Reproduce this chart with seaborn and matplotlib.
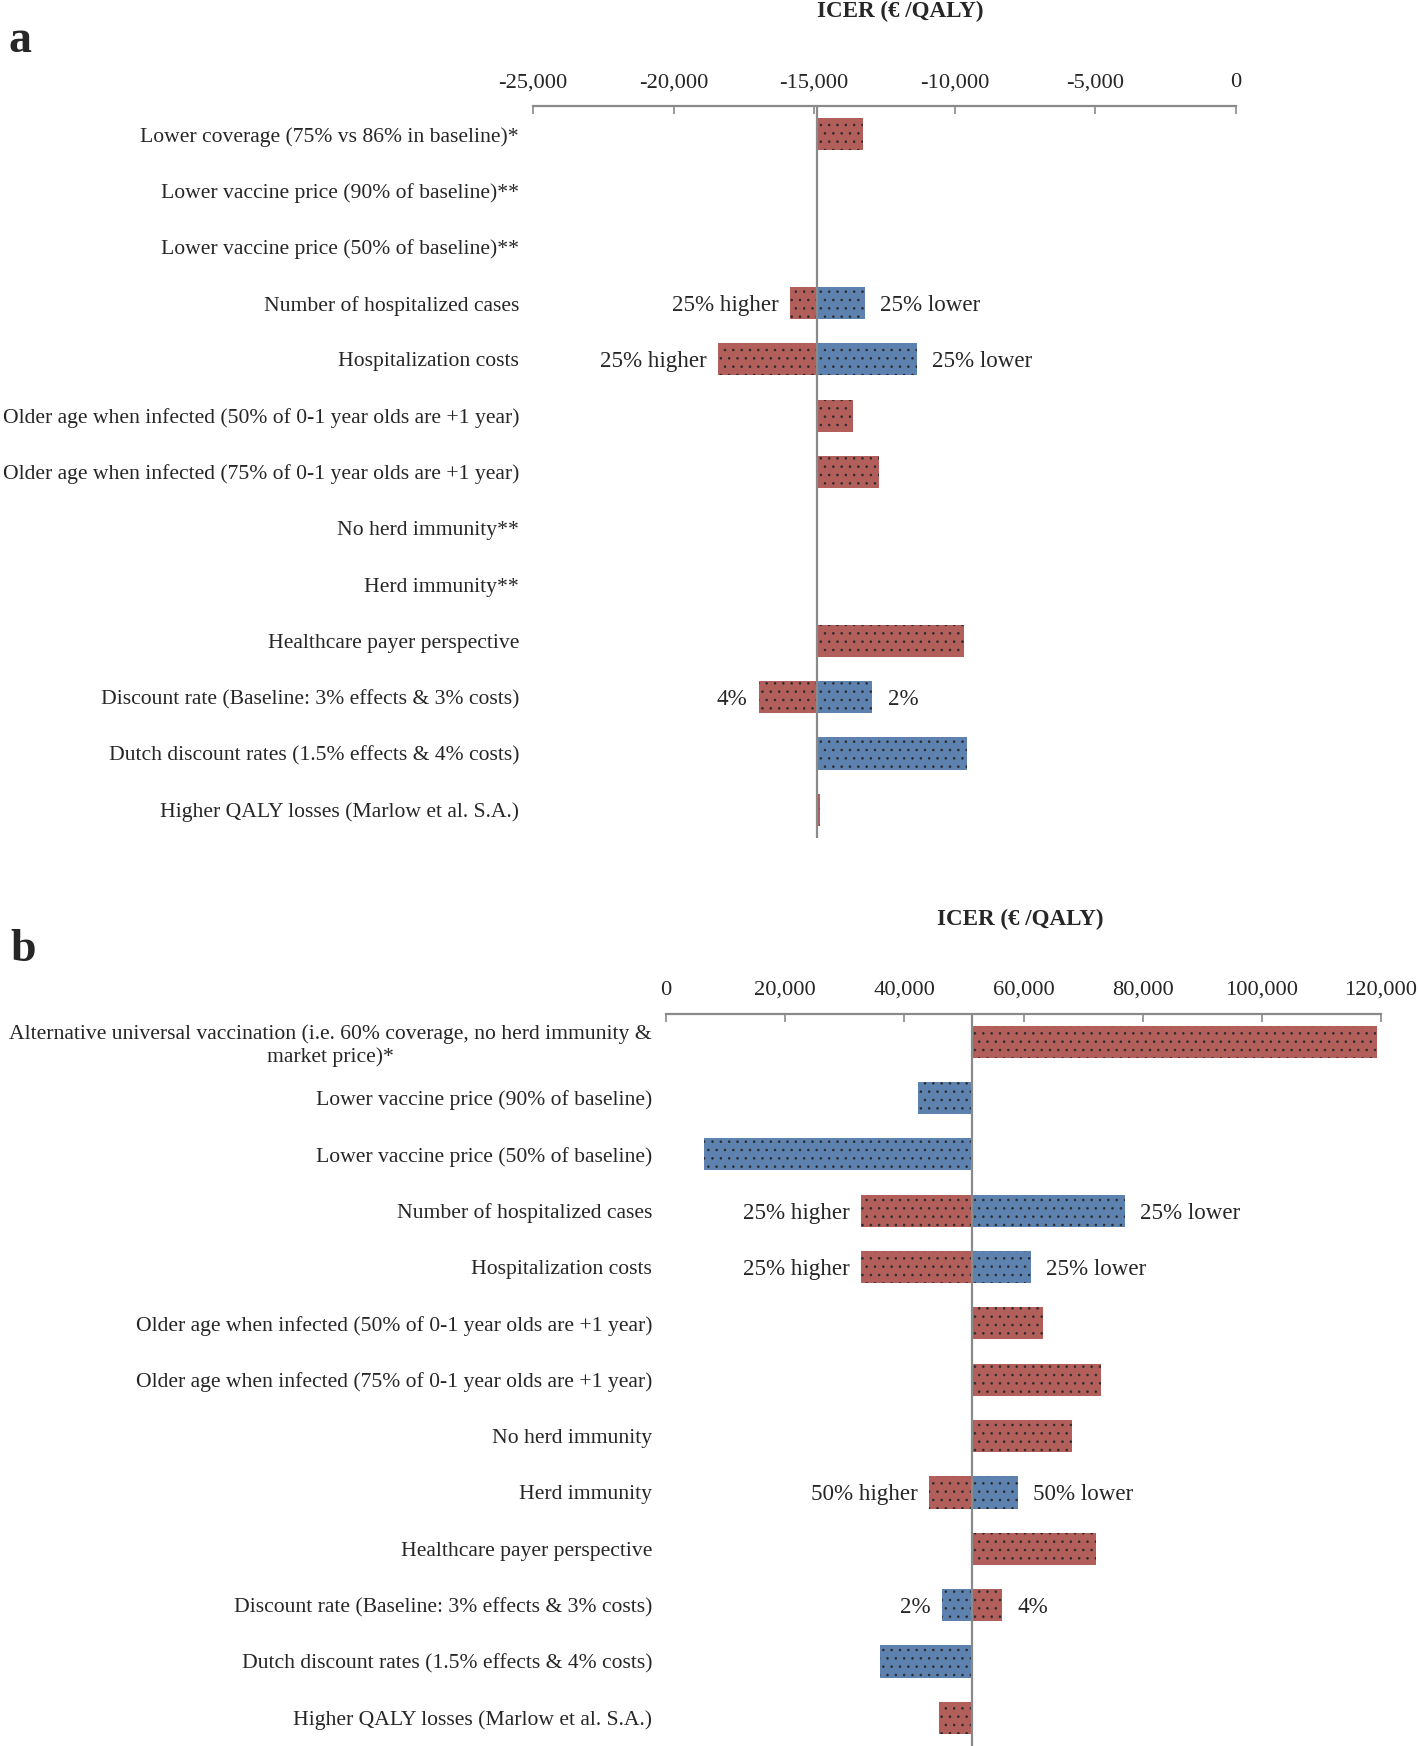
import numpy as np
import pandas as pd
import seaborn as sns
import matplotlib.pyplot as plt
from matplotlib.ticker import FuncFormatter, MultipleLocator

# %%
# Tornado data: ICER (EUR/QALY) per scenario, bars start at the base-case ICER
cats_a = [
    'Lower coverage (75% vs 86% in baseline)*',
    'Lower vaccine price (90% of baseline)**',
    'Lower vaccine price (50% of baseline)**',
    'Number of hospitalized cases',
    'Hospitalization costs',
    'Older age when infected (50% of 0-1 year olds are +1 year)',
    'Older age when infected (75% of 0-1 year olds are +1 year)',
    'No herd immunity**',
    'Herd immunity**',
    'Healthcare payer perspective',
    'Discount rate (Baseline: 3% effects & 3% costs)',
    'Dutch discount rates (1.5% effects & 4% costs)',
    'Higher QALY losses (Marlow et al. S.A.)',
]
base_a = -14890
red_a = [-13250, np.nan, np.nan, -15860, -18430, -13610, -12700,
         np.nan, np.nan, -9690, -16970, np.nan, -14790]
blue_a = [np.nan, np.nan, np.nan, -13190, -11360, np.nan, np.nan,
          np.nan, np.nan, np.nan, -12930, -9570, np.nan]
red_txt_a = ['', '', '', '25% higher', '25% higher', '', '', '', '', '', '4%', '', '']
blue_txt_a = ['', '', '', '25% lower', '25% lower', '', '', '', '', '', '2%', '', '']

cats_b = [
    'Alternative universal vaccination (i.e. 60% coverage, no herd immunity &\nmarket price)*',
    'Lower vaccine price (90% of baseline)',
    'Lower vaccine price (50% of baseline)',
    'Number of hospitalized cases',
    'Hospitalization costs',
    'Older age when infected (50% of 0-1 year olds are +1 year)',
    'Older age when infected (75% of 0-1 year olds are +1 year)',
    'No herd immunity',
    'Herd immunity',
    'Healthcare payer perspective',
    'Discount rate (Baseline: 3% effects & 3% costs)',
    'Dutch discount rates (1.5% effects & 4% costs)',
    'Higher QALY losses (Marlow et al. S.A.)',
]
base_b = 51400
red_b = [119300, np.nan, np.nan, 32700, 32700, 63300, 73000,
         68100, 44200, 72200, 56400, np.nan, 45800]
blue_b = [np.nan, 42300, 6300, 77000, 61200, np.nan, np.nan,
          np.nan, 59100, np.nan, 46300, 35900, np.nan]
red_txt_b = ['', '', '', '25% higher', '25% higher', '', '', '', '50% higher', '', '4%', '', '']
blue_txt_b = ['', '', '', '25% lower', '25% lower', '', '', '', '50% lower', '', '2%', '', '']

RED = '#C0504D'
BLUE = '#4F81BD'
GREY = '#8A8A8A'

sns.set_style('white')
plt.rcParams['font.family'] = ['Liberation Serif', 'DejaVu Serif']
plt.rcParams['hatch.linewidth'] = 0.6
FS = 15.6       # scenario names
FS_TICK = 16.2  # axis numbers
FS_NOTE = 16.6  # "25% higher" etc.


# %%
def tornado(ax, cats, base, red, blue, red_txt, blue_txt, xlim, step):
    n = len(cats)
    df = pd.DataFrame({
        'scenario': cats * 2,
        'value': list(red) + list(blue),
        'side': ['red'] * n + ['blue'] * n,
        'label': red_txt + blue_txt,
    })
    df['delta'] = df['value'] - base
    sns.barplot(data=df.dropna(subset=['delta']), x='delta', y='scenario',
                hue='side', order=cats, hue_order=['red', 'blue'],
                palette={'red': RED, 'blue': BLUE}, dodge=False,
                width=0.57, errorbar=None, left=base, legend=False,
                orient='h', ax=ax)
    for p in ax.patches:
        p.set_edgecolor('#2b2b2b')
        p.set_linewidth(0)
        p.set_hatch('..')

    # scenario labels next to bar ends
    pos = {c: i for i, c in enumerate(cats)}
    for _, r in df.iterrows():
        if not r['label'] or np.isnan(r['value']):
            continue
        left_side = r['value'] < base
        ax.annotate(r['label'], (r['value'], pos[r['scenario']]),
                    xytext=(-8 if left_side else 11, 0), textcoords='offset points',
                    ha='right' if left_side else 'left', va='center_baseline',
                    fontsize=FS_NOTE)

    ax.axvline(base, color=GREY, lw=1.6, zorder=3)
    ax.set_xlim(*xlim)
    ax.set_ylim(n - 0.5, -0.5)
    ax.xaxis.set_major_locator(MultipleLocator(step))
    ax.xaxis.set_major_formatter(FuncFormatter(lambda v, _: f'{v:,.0f}'))
    ax.xaxis.tick_top()
    ax.tick_params(axis='x', direction='in', length=6, width=1.2, color=GREY,
                   pad=10, labelsize=FS_TICK)
    ax.tick_params(axis='y', length=0, pad=10, labelsize=FS)
    for lab in ax.get_yticklabels():
        lab.set_multialignment('center')
    for s in ['left', 'right', 'bottom']:
        ax.spines[s].set_visible(False)
    ax.spines['top'].set_color(GREY)
    ax.spines['top'].set_linewidth(1.6)
    ax.set_xlabel('')
    ax.set_ylabel('')


# %%
W, H = 1418, 1746
fig = plt.figure(figsize=(W / 100, H / 100), dpi=100)

ax_a = fig.add_axes([533 / W, 1 - 838 / H, 703 / W, 732 / H])
tornado(ax_a, cats_a, base_a, red_a, blue_a, red_txt_a, blue_txt_a,
        (-25000, 0), 5000)

ax_b = fig.add_axes([666 / W, 0, 715 / W, 732.5 / H])
tornado(ax_b, cats_b, base_b, red_b, blue_b, red_txt_b, blue_txt_b,
        (0, 120000), 20000)

fig.text(900 / W, 1 - 11 / H, 'ICER (€ /QALY)', ha='center', va='center',
         fontsize=FS + 1, fontweight='bold')
fig.text(1020 / W, 1 - 919 / H, 'ICER (€ /QALY)', ha='center', va='center',
         fontsize=FS + 1, fontweight='bold')
fig.text(8 / W, 1 - 41 / H, 'a', ha='left', va='center', fontsize=33, fontweight='bold')
fig.text(10 / W, 1 - 950 / H, 'b', ha='left', va='center', fontsize=33, fontweight='bold')

fig.savefig('out.png', dpi=100)
